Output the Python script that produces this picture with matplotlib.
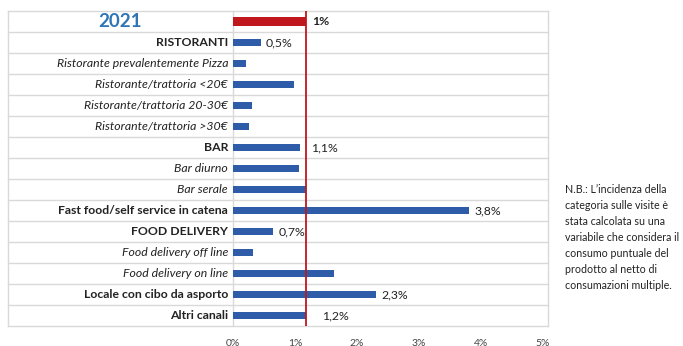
import matplotlib.pyplot as plt

plt.rcParams['font.family'] = ['Lato', 'DejaVu Sans']

categories = ["2021", "RISTORANTI", "Ristorante prevalentemente Pizza",
              "Ristorante/trattoria <20€", "Ristorante/trattoria 20-30€",
              "Ristorante/trattoria >30€", "BAR", "Bar diurno", "Bar serale",
              "Fast food/self service in catena", "FOOD DELIVERY",
              "Food delivery off line", "Food delivery on line",
              "Locale con cibo da asporto", "Altri canali"]
values = [1.18, 0.45, 0.21, 0.98, 0.31, 0.26, 1.08, 1.07, 1.18, 3.81,
          0.65, 0.32, 1.63, 2.31, 1.18]
# style of the row label: b = bold, i = italic, t = title
styles = ["t", "b", "i", "i", "i", "i", "b", "i", "i", "b", "b", "i", "i", "b", "b"]
value_labels = {0: "1%", 1: "0,5%", 6: "1,1%", 9: "3,8%", 10: "0,7%",
                13: "2,3%", 14: "1,2%"}
label_pos = {0: 1.27, 1: 0.53, 6: 1.26, 9: 3.9, 10: 0.74, 13: 2.4, 14: 1.44}
avg = 1.18
xticks = [0, 1, 2, 3, 4, 5]
note = ("N.B.: L\u2019incidenza della\ncategoria sulle visite è\n"
        "stata calcolata su una\nvariabile che considera il\n"
        "consumo puntuale del\nprodotto al netto di\nconsumazioni multiple.")

blue = "#2e5ca8"
red = "#c0171c"
grid = "#d9d9d9"

fig = plt.figure(figsize=(6.83, 3.46), dpi=100)
ax = fig.add_axes([233/683, 1-326/346, 315/683, 315/346])
n = len(categories)
xmax = 315/62

for i, (c, v, s) in enumerate(zip(categories, values, styles)):
    col = red if i == 0 else blue
    h = 0.42 if i == 0 else 0.34
    ax.barh(i, v, height=h, color=col)
    if s == "t":
        ax.text(-1.82, i, c, ha="center", va="center",
                fontsize=13.5, fontweight="bold", color="#2e75b6")
    else:
        ax.text(-0.08, i, c, ha="right", va="center", fontsize=8.8,
                fontweight="bold" if s == "b" else "normal",
                fontstyle="italic" if s == "i" else "normal", color="#222222")
    if i in value_labels:
        ax.text(label_pos[i], i, value_labels[i], ha="left", va="center",
                fontsize=8.8, fontweight="bold" if i == 0 else "normal",
                color="#222222")

ax.set_xlim(0, xmax)
ax.set_ylim(n - 0.5, -0.5)
ax.axvline(avg, color=red, lw=1.3)

tr = ax.get_yaxis_transform()
for k in range(n + 1):
    ax.plot([-0.714, 1], [k - 0.5, k - 0.5], color=grid, lw=1,
            transform=tr, clip_on=False, zorder=0)
for xf in [-0.714, 0, 1]:
    ax.plot([xf, xf], [0, 1], color=grid, lw=1, transform=ax.transAxes,
            clip_on=False, zorder=0)

for sp in ax.spines.values():
    sp.set_visible(False)
ax.set_yticks([])
ax.set_xticks(xticks)
ax.set_xticklabels([f"{t}%" for t in xticks], fontsize=7.5, color="#444444")
ax.tick_params(axis="x", length=0, pad=9)

fig.text(565/683, 1-184/346, note, ha="left", va="top", fontsize=7.7,
         linespacing=1.55, color="#222222")

fig.savefig("out.png", dpi=100)
